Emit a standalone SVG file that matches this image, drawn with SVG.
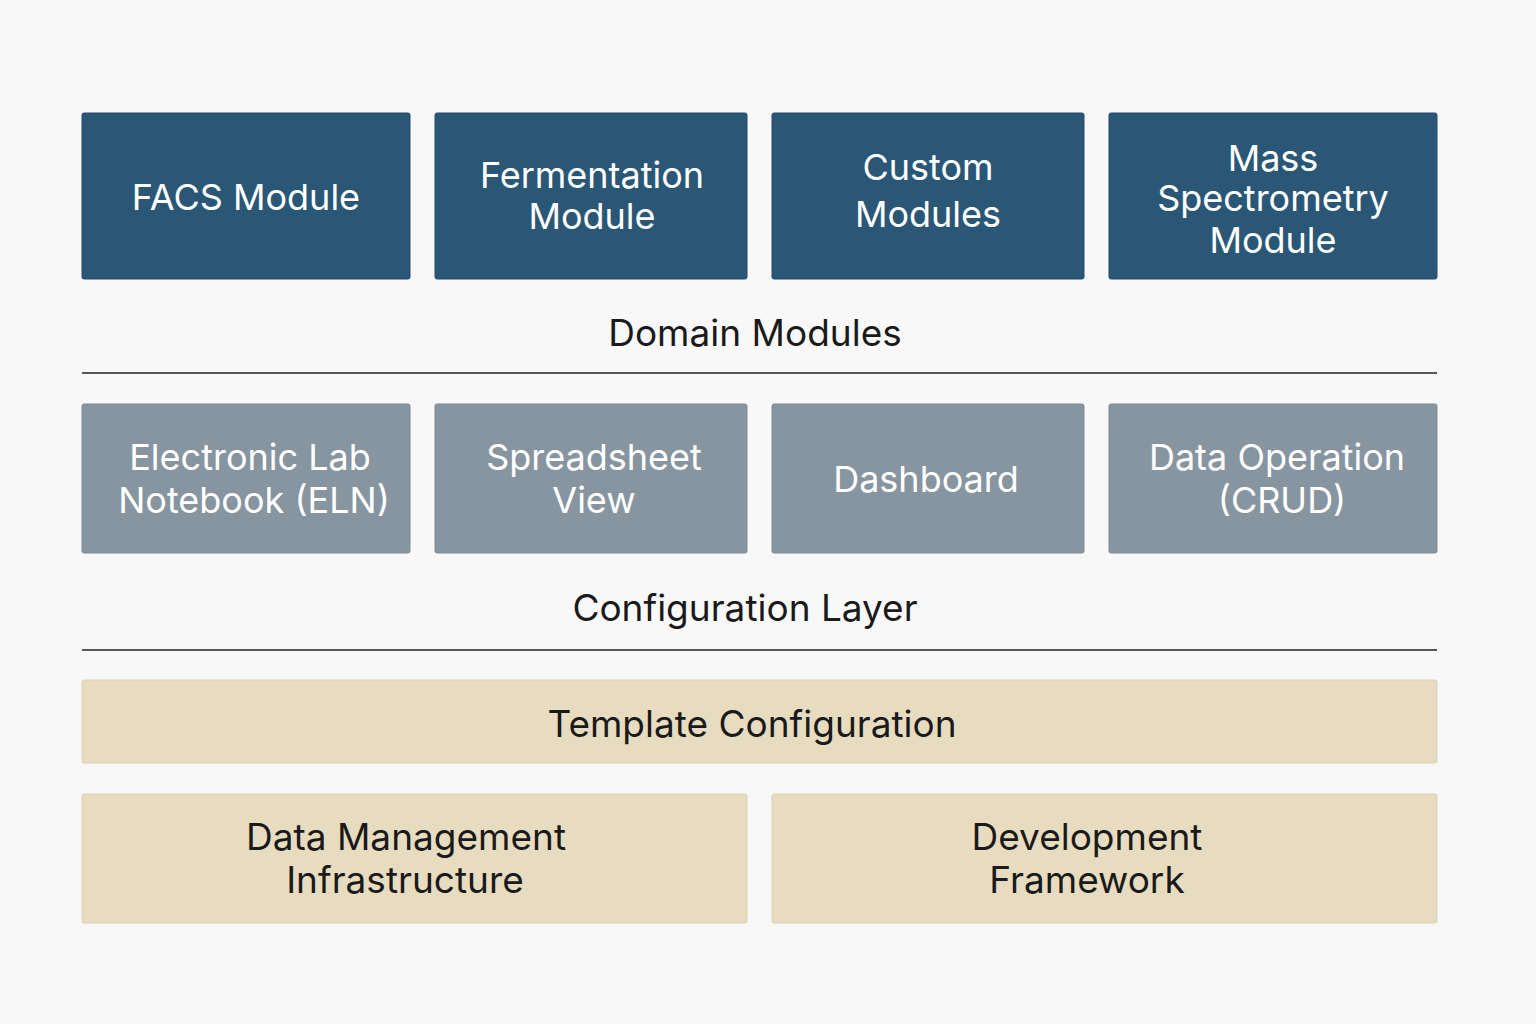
<svg xmlns="http://www.w3.org/2000/svg" width="1536" height="1024" viewBox="0 0 1536 1024">
<style>
.d{fill:#2b5777;stroke:#24496a;stroke-width:1}
.g{fill:#8795a0;stroke:#7d8a95;stroke-width:1}
.t{fill:#e8dcc0;stroke:#ddd0b0;stroke-width:1}
.w{font-family:Inter,"Noto Sans",sans-serif;font-size:36px;fill:#ffffff;text-anchor:middle}
.k{font-family:Inter,"Noto Sans",sans-serif;font-size:37px;fill:#1a1a1a;text-anchor:middle}
</style>
<rect width="1536" height="1024" fill="#f8f8f8"/>
<g id="facs"><rect class="d" x="82" y="113" width="328" height="166" rx="2"/><text class="w" x="246" y="210">FACS Module</text></g>
<g id="ferm"><rect class="d" x="435" y="113" width="312" height="166" rx="2"/><text class="w" x="592" y="188">Fermentation</text><text class="w" x="592" y="229">Module</text></g>
<g id="custom"><rect class="d" x="772" y="113" width="312" height="166" rx="2"/><text class="w" x="928" y="180">Custom</text><text class="w" x="928" y="227">Modules</text></g>
<g id="mass"><rect class="d" x="1109" y="113" width="328" height="166" rx="2"/><text class="w" x="1273" y="171">Mass</text><text class="w" x="1273" y="211">Spectrometry</text><text class="w" x="1273" y="253">Module</text></g>
<g id="domain"><text class="k" x="755" y="346">Domain Modules</text></g>
<g id="eln"><rect class="g" x="82" y="404" width="328" height="149" rx="2"/><text class="w" x="250" y="470">Electronic Lab</text><text class="w" x="254" y="513">Notebook (ELN)</text></g>
<g id="sheet"><rect class="g" x="435" y="404" width="312" height="149" rx="2"/><text class="w" x="594" y="470">Spreadsheet</text><text class="w" x="594" y="513">View</text></g>
<g id="dash"><rect class="g" x="772" y="404" width="312" height="149" rx="2"/><text class="w" x="926" y="492">Dashboard</text></g>
<g id="crud"><rect class="g" x="1109" y="404" width="328" height="149" rx="2"/><text class="w" x="1277" y="470">Data Operation</text><text class="w" x="1282" y="513">(CRUD)</text></g>
<g id="config"><text class="k" x="745" y="621">Configuration Layer</text></g>
<g id="tmpl"><rect class="t" x="82" y="680" width="1355" height="83" rx="2"/><text class="k" x="752" y="737">Template Configuration</text></g>
<g id="dm"><rect class="t" x="82" y="794" width="665" height="129" rx="2"/><text class="k" x="406" y="850">Data Management</text><text class="k" x="405" y="893">Infrastructure</text></g>
<g id="dev"><rect class="t" x="772" y="794" width="665" height="129" rx="2"/><text class="k" x="1087" y="850">Development</text><text class="k" x="1087" y="893">Framework</text></g>
<g id="connectors" stroke="#222" stroke-width="1.5"><line x1="82" y1="373" x2="1437" y2="373"/><line x1="82" y1="650" x2="1437" y2="650"/></g>
</svg>
